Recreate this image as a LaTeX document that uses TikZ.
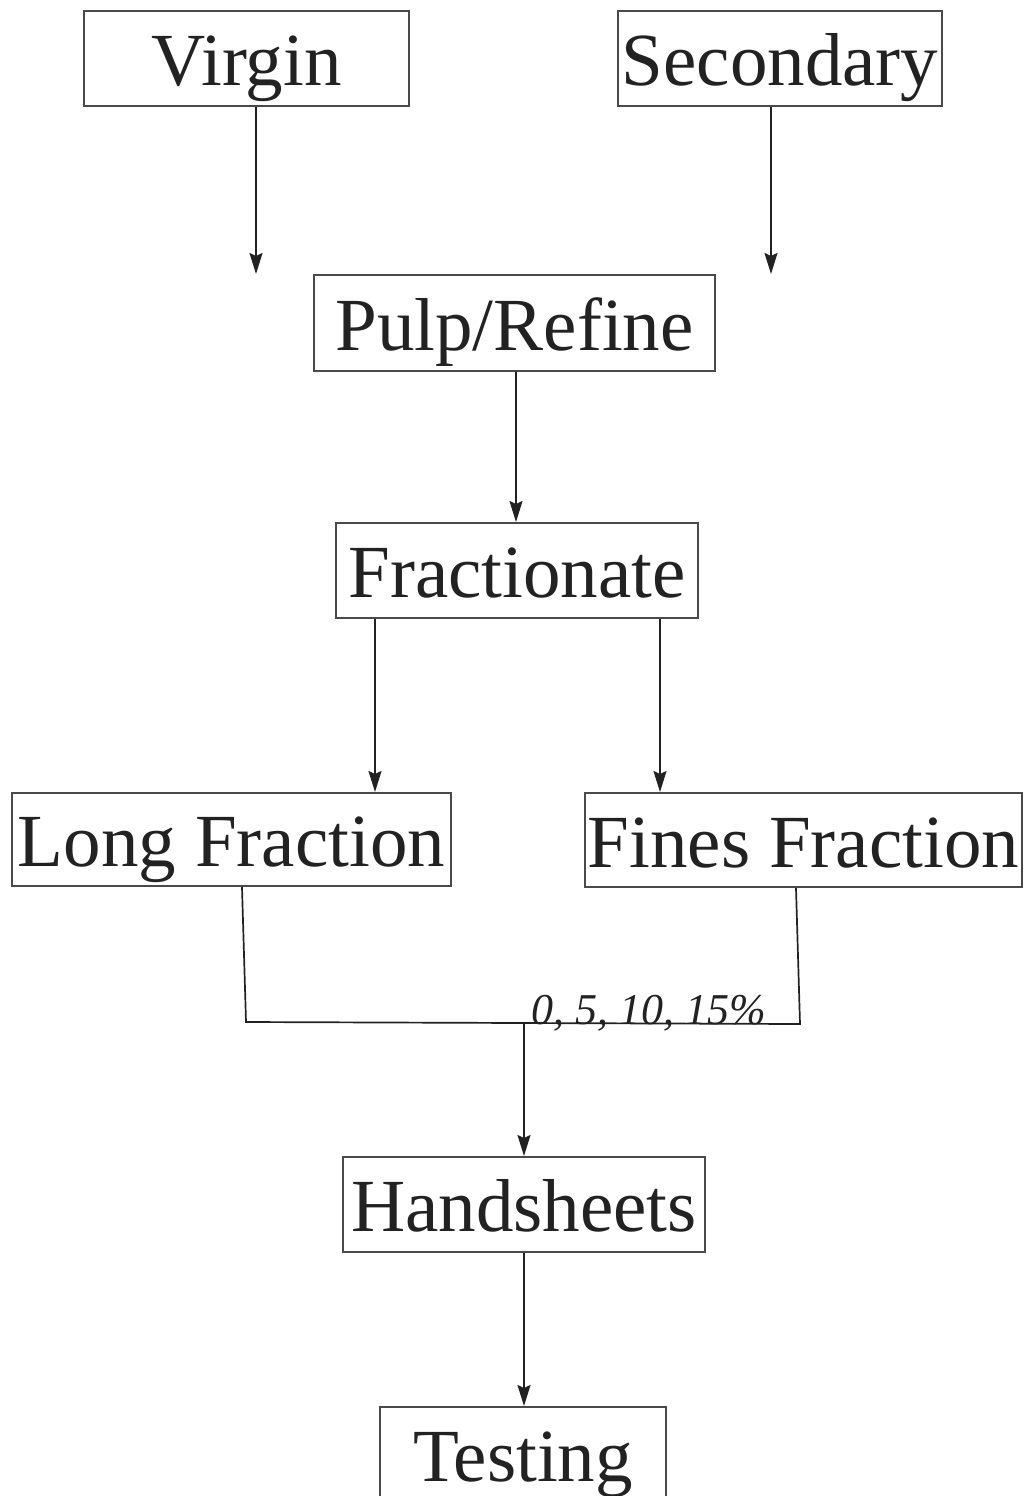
\documentclass[tikz,border=0pt]{standalone}
\usepackage{fontspec}
\setmainfont{Liberation Serif}
\usetikzlibrary{arrows.meta}
\definecolor{ink}{HTML}{222222}
\definecolor{boxgray}{HTML}{4A4A4A}
\begin{document}
\begin{tikzpicture}[x=1pt,y=-1pt,
  box/.style={draw=boxgray, line width=2pt, inner sep=0pt, text=ink,
    font=\fontsize{75}{80}\selectfont, text height=54pt, text depth=0pt},
  link/.style={draw=ink, line width=1.7pt},
  flow/.style={link, -{Stealth[length=21pt,width=13pt,inset=3pt]}}]

% page frame
\clip (0,0) rectangle (1025,1496);
\fill[white] (0,0) rectangle (1025,1496);

% process boxes
\node[box, minimum width=325pt, minimum height=95pt] (virgin) at (246.5,58.5) {Virgin};
\node[box, minimum width=324pt, minimum height=95pt] (secondary) at (780,58.5) {Secondary};
\node[box, minimum width=401pt, minimum height=96pt] (pulp) at (514.5,323) {Pulp/Refine};
\node[box, minimum width=362pt, minimum height=95pt] (frac) at (517,570.5) {Fractionate};
\node[box, minimum width=439pt, minimum height=93pt] (long) at (231.5,839.5) {Long Fraction};
\node[box, minimum width=437pt, minimum height=94pt] (fines) at (803.5,840) {Fines Fraction};
\node[box, minimum width=362pt, minimum height=95pt] (hand) at (524,1204.5) {Handsheets};
\node[box, minimum width=286pt, minimum height=95pt] (test) at (523,1454.5) {Testing};

% free arrow ends below the raw-material boxes
\coordinate (vend) at (256,274);
\coordinate (send) at (771,274);
\draw[flow] (virgin.south -| vend) -- (vend);
\draw[flow] (secondary.south -| send) -- (send);

% pulping to fractionation
\draw[flow] ([xshift=1.5pt]pulp.south) coordinate (p1) -- (p1 |- frac.north);

% fractionation into two streams
\draw[flow] ([xshift=-142pt]frac.south) coordinate (f1) -- (f1 |- long.north);
\draw[flow] ([xshift=143pt]frac.south) coordinate (f2) -- (f2 |- fines.north);

% recombination of the fractions
\coordinate (jl) at (246,1022);
\coordinate (jr) at (800,1024);
\coordinate (jm) at (524,1022.5);
\draw[link, line join=miter] ([xshift=10.5pt]long.south) -- (jl) -- (jr) -- ([xshift=-7.5pt]fines.south);
\node[anchor=base west, inner sep=0pt, text=ink,
  font=\itshape\fontsize{44}{48}\selectfont] (pct) at (531,1024) {0, 5, 10, 15\%};

% sheet forming and testing
\draw[flow] (jm) -- (jm |- hand.north);
\draw[flow] (hand.south) -- (hand.south |- test.north);
\end{tikzpicture}
\end{document}
